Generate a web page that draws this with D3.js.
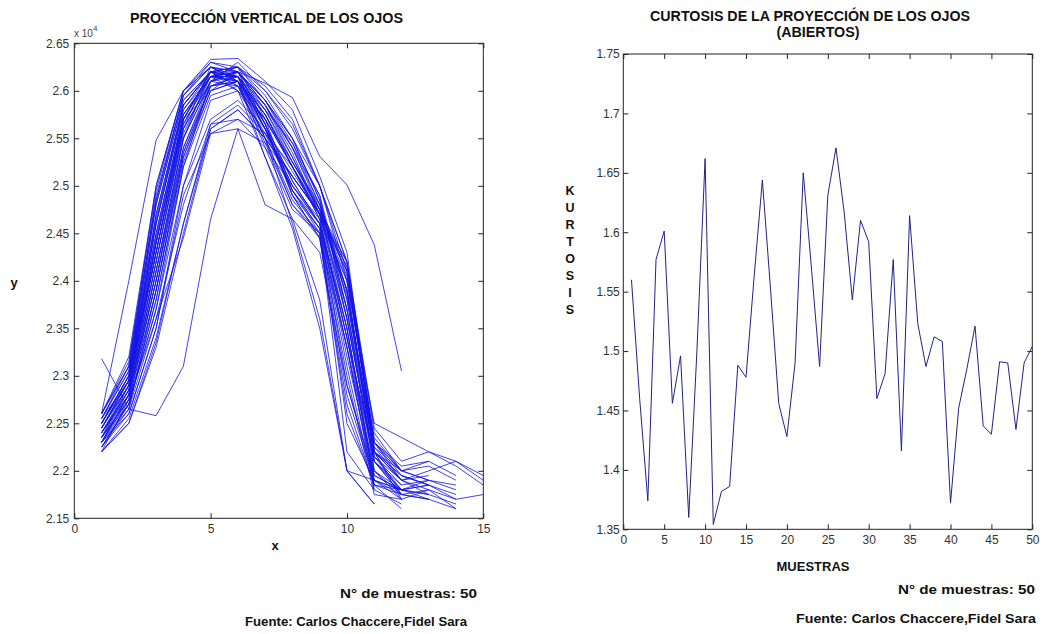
<!DOCTYPE html>
<html><head><meta charset="utf-8">
<script src="https://cdn.jsdelivr.net/npm/d3@7"></script>
<style>body{margin:0;background:#fff} text{font-family:"Liberation Sans",Arial,sans-serif}</style>
</head><body><svg id="c" width="1046" height="634"></svg>
<script>
// ---------- DATA ----------
// Left chart: vertical projection of the eyes, 50 samples (x = 1..N)
const proyecciones = [
  [23180,22650,22580,23100,24650,25600,24800,24650,24300,22900,21900,21750],
  [22600,24000,25480,26000,26330,26340,26100,25800,25100,24300,22200,21950,21850],
  [22500,22950,24300,25700,26000,26200,26080,25930,25310,25010,24380,23050],
  [22300,22800,24200,25600,26250,26200,25850,25400,24900,23600,22100,21800,21750,21650],
  [22200,22750,24000,25500,26200,26250,25900,25500,25000,24100,22300,21900,22000,22100,21900],
  [22350,22900,24700,25850,26200,26150,25500,24800,24500,23000,21750,21700],
  [22500,23000,24900,25950,26250,26100,25300,24550,23500,22000,21650],
  [22400,22800,24100,25400,26100,26300,26000,25600,25000,24200,22400,22000,22100,21950],
  [22600,23100,25000,26000,26300,26200,25650,24900,24450,23300,22000,21800,21700],
  [22250,22700,23700,25200,26100,26200,25900,25500,24850,23700,22200,21750],
  [22550,22950,24600,25800,26200,26000,25300,24650,23800,22000,21900,21700,21800,21600],
  [22450,22900,24300,25650,26150,26150,25750,25200,24650,23400,22100,21850,21900],
  [22300,22600,23500,25000,25700,25900,25600,25150,24700,24200,22300,22000],
  [22400,22850,24400,25700,26200,26250,26000,25650,25000,24000,22500,22350,22200,22050,21850],
  [22600,23200,25000,26000,26250,26150,25600,24950,24550,23100,21800,21650],
  [22200,22500,23300,24500,25600,25800,25500,25100,24700,24100,22200,21900,21750],
  [22350,22750,23600,24450,25550,25700,25400,25000,24650,24000,22000,21700],
  [22500,23000,24800,25900,26200,26100,25400,24750,24500,22500,21900],
  [22250,22650,23900,25300,26000,26100,25800,25450,24900,23800,22200,22000,21900,21800],
  [22450,22950,24600,25800,26150,26000,25550,24950,24600,23500,21900,21800,21850],
  [22300,22800,24100,25500,26100,26200,25850,25350,24700,23600,22100,21750],
  [22550,23050,24800,25900,26200,26050,25450,24800,24450,22700,21850],
  [22350,22700,23700,25000,25900,26000,25700,25250,24800,24050,22300,22050,22100],
  [22400,22850,24300,25600,26100,26050,25600,25000,24600,23200,21950,21800],
  [22200,22550,23400,24600,25650,25850,25550,25100,24700,24150,22250,21900,21800,21700,21750],
  [22500,23000,24500,25750,26150,26200,25900,25450,24800,23900,22200,21700],
  [22600,23150,24950,26000,26250,26100,25500,24600,23600,22000,21650],
  [22300,22800,24000,25400,26050,26150,25800,25300,24750,24000,22350,22000,22050,21900],
  [22450,22900,24400,25700,26200,26250,25950,25500,24850,23700,22000,21750,21700],
  [22250,22700,23800,25200,25950,26050,25700,25200,24650,23400,22150,21850],
  [22500,23000,24600,25850,26200,26150,25600,24900,24550,22900,21950],
  [22350,22850,24200,25550,26150,26250,26050,25700,25000,24200,22450,22100,22200,22100,21950],
  [22400,22800,24000,25350,26050,26100,25750,25200,24700,23500,21950,21800,21750],
  [22550,23100,24850,25950,26250,26200,25650,24900,24450,22600,21850,21600],
  [22300,22650,23600,24800,25650,25700,25550,25200,24750,24200,22300,21950,21850,21700],
  [22450,22950,24500,25750,26150,26100,25600,25000,24600,23300,21850,21800],
  [22600,23100,24850,25950,26300,26250,25700,24950,24500,22200,21800],
  [22350,22750,23900,25300,26050,26150,25850,25400,24800,23800,22200,21900,21950],
  [22250,22600,23500,24900,25550,25600,25450,25100,24700,24100,22300,22000],
  [22500,22950,24400,25700,26200,26200,25850,25300,24700,23700,22100,21750,21700,21600],
  [22400,22900,24300,25650,26150,26150,25650,25050,24600,23400,21900,21800],
  [22550,23050,24650,25850,26200,26050,25500,24850,24500,22800,21900],
  [22300,22700,23800,25250,26000,26100,25750,25250,24750,23900,22250,22000,21900],
  [22450,22900,24400,25700,26150,26200,25900,25400,24750,23600,22100,21800,21850,21750],
  [22350,22800,24100,25500,26100,26150,25750,25200,24700,23850,22150,21900],
  [22200,22500,23350,24600,25600,25800,25500,25100,24700,24150,22200,21950,21850],
  [22500,23000,24700,25850,26200,26150,25600,24950,24550,23300,21800],
  [22400,22850,24200,25600,26100,26200,25800,25250,24750,23900,22150,21800,21900,21850],
  [22300,22750,23900,25350,26050,26100,25700,25200,24700,23900,22200,21900],
  [22450,22950,24450,25750,26150,26100,25650,25050,24600,23500,21850,21750,21800]
];
// Right chart: kurtosis of the projection, samples 1..50
const curtosis = [1.56,1.46,1.374,1.577,1.601,1.456,1.496,1.36,1.50,1.662,
  1.354,1.382,1.386,1.488,1.478,1.563,1.644,1.552,1.456,1.428,
  1.49,1.65,1.57,1.487,1.631,1.671,1.617,1.543,1.61,1.592,
  1.46,1.481,1.577,1.416,1.614,1.523,1.487,1.512,1.508,1.372,
  1.452,1.485,1.521,1.437,1.43,1.491,1.49,1.434,1.49,1.504];

const leftXTicks = [0,5,10,15];
const leftYTicks = [21500,22000,22500,23000,23500,24000,24500,25000,25500,26000,26500];
const rightXTicks = [0,5,10,15,20,25,30,35,40,45,50];
const rightYTicks = [1.35,1.4,1.45,1.5,1.55,1.6,1.65,1.7,1.75];

const leftTitle = "PROYECCIÓN VERTICAL DE LOS OJOS";
const rightTitle1 = "CURTOSIS DE LA PROYECCIÓN DE LOS OJOS";
const rightTitle2 = "(ABIERTOS)";
const nota = "N° de muestras: 50";
const fuente = "Fuente: Carlos Chaccere,Fidel Sara";
const kurtLetters = ["K","U","R","T","O","S","I","S"];

// ---------- DRAW ----------
const svg = d3.select("#c");

function panel(o) {
  const x = d3.scaleLinear().domain(o.xDom).range([o.x0, o.x1]);
  const y = d3.scaleLinear().domain(o.yDom).range([o.y1, o.y0]);
  const g = svg.append("g");
  const tickCol = "#222";
  const ax = g.append("g").attr("transform", `translate(0,${o.y1})`)
    .call(d3.axisBottom(x).tickValues(o.xTicks).tickSize(-5).tickPadding(o.xPad).tickFormat(d => d));
  const ay = g.append("g").attr("transform", `translate(${o.x0},0)`)
    .call(d3.axisLeft(y).tickValues(o.yTicks).tickSize(-5).tickPadding(o.yPad).tickFormat(o.fmtY));
  const at = g.append("g").attr("transform", `translate(0,${o.y0})`)
    .call(d3.axisTop(x).tickValues(o.xTicks).tickSize(-5).tickFormat(""));
  const ar = g.append("g").attr("transform", `translate(${o.x1},0)`)
    .call(d3.axisRight(y).tickValues(o.yTicks).tickSize(-5).tickFormat(""));
  [ax, ay, at, ar].forEach(a => {
    a.select(".domain").remove();
    a.selectAll("line").attr("stroke", tickCol);
    a.selectAll("text").attr("fill", "#333").style("font-size", "12px")
      .style("font-family", '"Liberation Sans",Arial,sans-serif');
  });
  g.append("rect").attr("x", o.x0).attr("y", o.y0)
    .attr("width", o.x1 - o.x0).attr("height", o.y1 - o.y0)
    .attr("fill", "none").attr("stroke", tickCol).attr("stroke-width", 1);
  const line = d3.line().x((d, i) => x(i + 1)).y(d => y(d));
  g.append("g").selectAll("path").data(o.series).join("path")
    .attr("d", line).attr("fill", "none")
    .attr("stroke", o.color).attr("stroke-width", 1).attr("stroke-opacity", o.opacity)
    .attr("stroke-linejoin", "round");
  return g;
}

panel({x0: 74.3, x1: 483.3, y0: 43.3, y1: 518.3,
  xDom: [0, 15], yDom: [21500, 26500], xTicks: leftXTicks, yTicks: leftYTicks,
  fmtY: d => String(+(d / 1e4).toFixed(2)), xPad: 6, yPad: 5,
  series: proyecciones, color: "#1414e6", opacity: 0.8});

panel({x0: 623.3, x1: 1032.3, y0: 54, y1: 529.3,
  xDom: [0, 50], yDom: [1.35, 1.75], xTicks: rightXTicks, yTicks: rightYTicks,
  fmtY: d => String(+d.toFixed(2)), xPad: 6.5, yPad: 3.5,
  series: [curtosis], color: "#22228c", opacity: 1});

function txt(s, x, y, size, opts = {}) {
  const t = svg.append("text").attr("x", x).attr("y", y).text(s)
    .attr("fill", opts.fill || "#111").style("font-size", size + "px")
    .style("font-weight", opts.weight || "bold")
    .attr("text-anchor", opts.anchor || "middle");
  if (opts.len) t.attr("textLength", opts.len).attr("lengthAdjust", "spacingAndGlyphs");
  return t;
}

// Left titles/labels
txt(leftTitle, 266.5, 22.5, 14, {len: 273});
const exp = svg.append("text").attr("x", 74).attr("y", 37).attr("fill", "#444")
  .style("font-size", "10px").text("x 10");
exp.append("tspan").attr("dy", -6).style("font-size", "8px").text("4");
txt("x", 275, 550, 13);
txt("y", 14, 287, 13);
txt(nota, 408.5, 598, 13, {len: 137});
txt(fuente, 356, 626, 13, {len: 222});

// Right titles/labels
txt(rightTitle1, 810, 21, 14, {len: 320});
txt(rightTitle2, 818, 37, 14, {len: 83});
txt("MUESTRAS", 813, 571, 13);
kurtLetters.forEach((c, i) => txt(c, 570, 195 + i * 17, 12.5));
txt(nota, 966.5, 594, 13, {len: 137});
txt(fuente, 916, 623, 13, {len: 240});
</script></body></html>
